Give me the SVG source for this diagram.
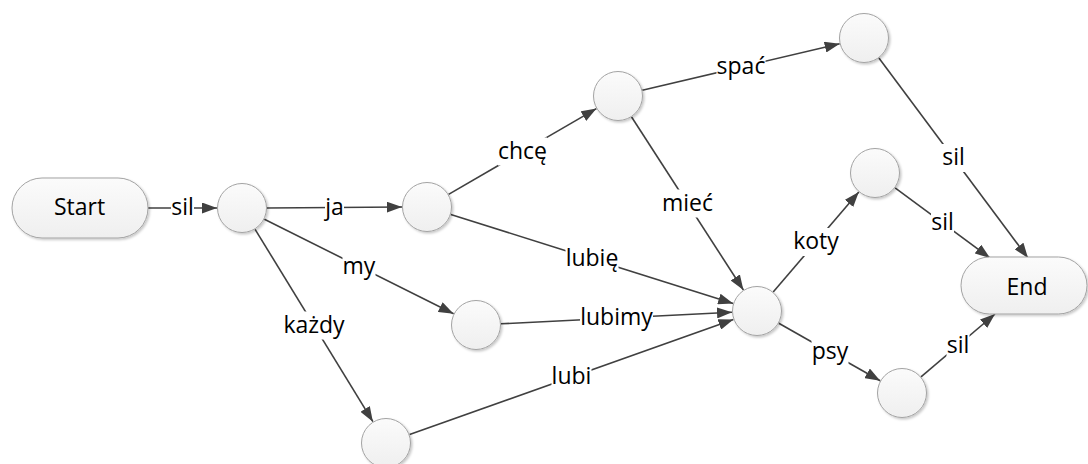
<svg xmlns="http://www.w3.org/2000/svg" width="1088" height="464" viewBox="0 0 1088 464">
  <defs>
    <linearGradient id="nodeFill" x1="0" y1="0" x2="0" y2="1">
      <stop offset="0" stop-color="#fbfbfb"/>
      <stop offset="1" stop-color="#efefef"/>
    </linearGradient>
    <filter id="shadow" x="-20%" y="-20%" width="150%" height="150%">
      <feDropShadow dx="1.5" dy="1.5" stdDeviation="1.2" flood-color="#000" flood-opacity="0.22"/>
    </filter>
    <marker id="arrow" markerUnits="userSpaceOnUse" markerWidth="16" markerHeight="11" refX="15" refY="5.5" orient="auto">
      <path d="M0,0 L15,5.5 L0,11 Z" fill="#404040"/>
    </marker>
  </defs>
  <style>
    .node { fill: url(#nodeFill); stroke: #a3a3a3; stroke-width: 1; filter: url(#shadow); }
    .edge { stroke: #404040; stroke-width: 1.6; fill: none; marker-end: url(#arrow); }
    .bg { fill: #ffffff; }
    .lbl { font-family: "Open Sans", "Noto Sans", "DejaVu Sans", sans-serif; font-size: 23px; fill: #000; text-anchor: middle; }
  </style>
  <rect width="1088" height="464" fill="#ffffff"/>

  <!-- connectors -->
  <g id="connectors">
    <line class="edge" x1="148" y1="208" x2="217" y2="208"/>
    <line class="edge" x1="267" y1="208" x2="402" y2="207"/>
    <line class="edge" x1="264.4" y1="219.2" x2="453.6" y2="313.8"/>
    <line class="edge" x1="255.1" y1="229.3" x2="372.9" y2="421.7"/>
    <line class="edge" x1="448.6" y1="194.4" x2="596.4" y2="108.6"/>
    <line class="edge" x1="450.8" y1="214.5" x2="733.2" y2="303.5"/>
    <line class="edge" x1="642.3" y1="90.3" x2="839.7" y2="43.7"/>
    <line class="edge" x1="631.6" y1="117" x2="743.4" y2="290"/>
    <line class="edge" x1="501" y1="323.8" x2="732" y2="312.2"/>
    <line class="edge" x1="409.6" y1="434.6" x2="733.4" y2="319.4"/>
    <line class="edge" x1="773.2" y1="292" x2="858.8" y2="192"/>
    <line class="edge" x1="778.8" y1="323.3" x2="880.2" y2="380.7"/>
    <line class="edge" x1="878.9" y1="58" x2="1028" y2="258"/>
    <line class="edge" x1="895.1" y1="187.9" x2="990" y2="258"/>
    <line class="edge" x1="921" y1="376.8" x2="995" y2="314"/>

    <!-- edge labels -->
    <rect class="bg" x="171" y="194" width="23" height="28"/>
    <text class="lbl" x="182.5" y="215">sil</text>
    <rect class="bg" x="325" y="193.5" width="19" height="28"/>
    <text class="lbl" x="334.5" y="214.5">ja</text>
    <rect class="bg" x="342.5" y="252.5" width="33" height="28"/>
    <text class="lbl" x="359" y="273.5">my</text>
    <rect class="bg" x="283.5" y="311.5" width="61" height="28"/>
    <text class="lbl" x="314" y="332.5">każdy</text>
    <rect class="bg" x="498" y="137.5" width="49" height="28"/>
    <text class="lbl" x="522.5" y="158.5">chcę</text>
    <rect class="bg" x="565.5" y="245" width="53" height="28"/>
    <text class="lbl" x="592" y="266">lubię</text>
    <rect class="bg" x="716.5" y="53" width="49" height="28"/>
    <text class="lbl" x="741" y="74">spać</text>
    <rect class="bg" x="662" y="189.5" width="51" height="28"/>
    <text class="lbl" x="687.5" y="210.5">mieć</text>
    <rect class="bg" x="580" y="304" width="73" height="28"/>
    <text class="lbl" x="616.5" y="325">lubimy</text>
    <rect class="bg" x="551.5" y="363" width="40" height="28"/>
    <text class="lbl" x="571.5" y="384">lubi</text>
    <rect class="bg" x="793" y="228" width="46" height="28"/>
    <text class="lbl" x="816" y="249">koty</text>
    <rect class="bg" x="811.5" y="338" width="37" height="28"/>
    <text class="lbl" x="830" y="359">psy</text>
    <rect class="bg" x="942" y="144" width="23" height="28"/>
    <text class="lbl" x="953.5" y="165">sil</text>
    <rect class="bg" x="931" y="209" width="23" height="28"/>
    <text class="lbl" x="942.5" y="230">sil</text>
    <rect class="bg" x="946.5" y="331.5" width="23" height="28"/>
    <text class="lbl" x="958" y="352.5">sil</text>
  </g>

  <!-- terminal nodes -->
  <g id="start">
    <rect class="node" x="12" y="178" width="136" height="60" rx="30"/>
    <text class="lbl" x="79.5" y="215">Start</text>
  </g>
  <g id="end">
    <rect class="node" x="961" y="257" width="126" height="57" rx="28.5"/>
    <text class="lbl" x="1027" y="295">End</text>
  </g>

  <!-- state nodes -->
  <g id="s1"><circle class="node" cx="242" cy="208" r="24.5"/></g>
  <g id="s-ja"><circle class="node" cx="427" cy="207" r="24.5"/></g>
  <g id="s-chce"><circle class="node" cx="618" cy="96" r="24.5"/></g>
  <g id="s-spac"><circle class="node" cx="864" cy="38" r="24.5"/></g>
  <g id="s-my"><circle class="node" cx="476" cy="325" r="24.5"/></g>
  <g id="s-kazdy"><circle class="node" cx="386" cy="443" r="24.5"/></g>
  <g id="s-hub"><circle class="node" cx="757" cy="311" r="24.5"/></g>
  <g id="s-koty"><circle class="node" cx="875" cy="173" r="24.5"/></g>
  <g id="s-psy"><circle class="node" cx="902" cy="393" r="24.5"/></g>
</svg>
